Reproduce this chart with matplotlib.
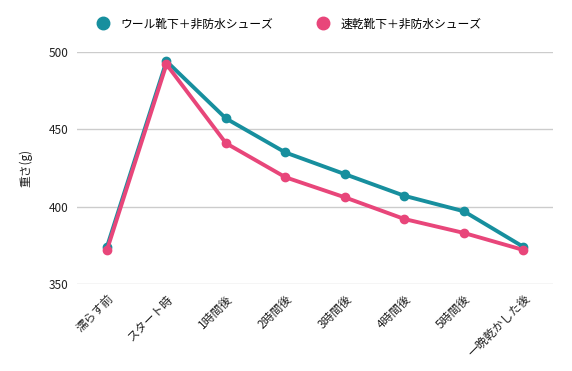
import matplotlib
matplotlib.use("Agg")
import matplotlib.pyplot as plt
from matplotlib.lines import Line2D

plt.rcParams['font.family'] = ['Noto Sans CJK JP', 'DejaVu Sans']

categories = ["濡らす前", "スタート時", "1時間後", "2時間後", "3時間後", "4時間後", "5時間後", "一晩乾かした後"]
wool = [374, 494, 457, 435, 421, 407, 397, 374]
quick = [372, 492, 441, 419, 406, 392, 383, 372]
series_names = ["ウール靴下＋非防水シューズ", "速乾靴下＋非防水シューズ"]
colors = ["#178f9e", "#e8467a"]
yticks = [350, 400, 450, 500]

fig = plt.figure(figsize=(5.72, 3.71), dpi=100)
ax = fig.add_axes([0.135, 0.2345, 0.832, 0.6255])
x = list(range(len(categories)))
for vals, c in zip([wool, quick], colors):
    ax.plot(x, vals, color=c, lw=2.8, marker='o', ms=6, zorder=3, clip_on=False)
ax.set_xlim(-0.5, len(categories) - 0.5)
ax.set_ylim(350, 500)
ax.set_yticks(yticks)
ax.set_yticklabels([str(t) for t in yticks], fontsize=8.5, color='#222222')
ax.grid(axis='y', color='#cccccc', lw=1)
ax.set_axisbelow(True)
for s in ax.spines.values():
    s.set_visible(False)
ax.tick_params(axis='both', length=0, pad=6)
ax.set_xticks(x)
ax.set_xticklabels(categories, rotation=45, ha='right', rotation_mode='anchor', fontsize=8.5, color='#222222')
ax.set_ylabel("重さ(g)", fontsize=8.5, color='#222222', labelpad=12)

handles = [Line2D([], [], color=c, marker='o', ls='', ms=9) for c in colors]
fig.legend(handles, series_names, loc='center', bbox_to_anchor=(0.5, 0.935), ncol=2, frameon=False,
           fontsize=8.5, handletextpad=0.5, columnspacing=3.2)
fig.savefig("out.png", dpi=100, facecolor='white')
